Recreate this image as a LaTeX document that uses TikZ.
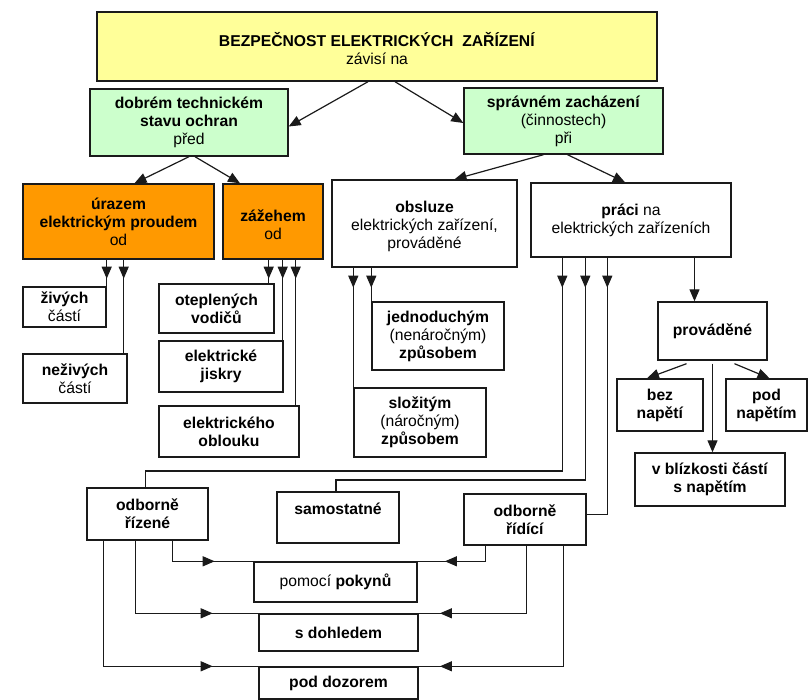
\documentclass[tikz,border=0pt]{standalone}
\usepackage{fontspec}
\setmainfont{Liberation Sans}
\usetikzlibrary{arrows.meta,decorations.markings}

\definecolor{zluta}{HTML}{FFFF99}
\definecolor{zelena}{HTML}{CCFFCC}
\definecolor{oranzova}{HTML}{FF9900}
\definecolor{cara}{HTML}{1A1A1A}

\begin{document}
\begin{tikzpicture}[x=1pt, y=-1pt, >={Triangle[length=12pt,width=10pt]},
  box/.style={draw=cara, line width=1.4pt, align=center, inner sep=2pt,
              font=\fontsize{15.7}{18}\selectfont},
  vazba/.style={draw=cara, line width=1.2pt},
  tipat/.style={postaction={decorate}, decoration={markings,
              mark=at position #1 with {\arrow{>}}}}]

  \useasboundingbox (0,0) rectangle (808,700);

  % Hlavní blok a dvě větve.
  \node[box, fill=zluta, minimum width=560, minimum height=69] (bezp) at (377,46.5)
       {\mbox{}\\\textbf{BEZPEČNOST ELEKTRICKÝCH\ \ ZAŘÍZENÍ}\\závisí na};
  \node[box, fill=zelena, minimum width=198, minimum height=67] (stav) at (189,122.5)
       {\textbf{dobrém technickém}\\\textbf{stavu ochran}\\před};
  \node[box, fill=zelena, minimum width=199, minimum height=66] (zach) at (563.5,121)
       {\textbf{správném zacházení}\\(činnostech)\\při};

  % Levá větev: úraz a zážeh.
  \node[box, fill=oranzova, minimum width=191, minimum height=75] (uraz) at (118.5,221.5)
       {\textbf{úrazem}\\\textbf{elektrickým proudem}\\od};
  \node[box, fill=oranzova, minimum width=100, minimum height=75] (zazeh) at (273,221.5)
       {\mbox{}\\\textbf{zážehem}\\od};
  \node[box, minimum width=83, minimum height=40] (ziv) at (64.5,307)
       {\textbf{živých}\\částí};
  \node[box, minimum width=104, minimum height=49] (neziv) at (75,378.5)
       {\textbf{neživých}\\částí};
  \node[box, minimum width=115, minimum height=49] (otepl) at (216.5,308.5)
       {\textbf{oteplených}\\\textbf{vodičů}};
  \node[box, minimum width=124, minimum height=51] (jiskr) at (221,366.5)
       {\textbf{elektrické}\\\textbf{jiskry}};
  \node[box, minimum width=140, minimum height=51] (obl) at (229,431.5)
       {\textbf{elektrického}\\\textbf{oblouku}};

  % Pravá větev: obsluha a práce.
  \node[box, minimum width=185, minimum height=87] (obsl) at (424.5,223.5)
       {\mbox{}\\\textbf{obsluze}\\elektrických zařízení,\\prováděné};
  \node[box, minimum width=200, minimum height=74] (prace) at (631,220)
       {\textbf{práci} na\\elektrických zařízeních};
  \node[box, minimum width=132, minimum height=68] (jedn) at (438,336)
       {\textbf{jednoduchým}\\(nenáročným)\\\textbf{způsobem}};
  \node[box, minimum width=132, minimum height=69] (slozit) at (420,422.5)
       {\textbf{složitým}\\(náročným)\\\textbf{způsobem}};
  \node[box, minimum width=109, minimum height=58] (prov) at (712.5,331)
       {\textbf{prováděné}};
  \node[box, minimum width=86, minimum height=52] (bez) at (660,405)
       {\textbf{bez}\\\textbf{napětí}};
  \node[box, minimum width=81, minimum height=52] (pod) at (766.5,405)
       {\textbf{pod}\\\textbf{napětím}};
  \node[box, minimum width=150, minimum height=53] (blizk) at (710,479.5)
       {\textbf{v blízkosti částí}\\\textbf{s napětím}};

  % Kdo práci vykonává a jak.
  \node[box, minimum width=121, minimum height=52] (rizene) at (147.5,514)
       {\textbf{odborně}\\\textbf{řízené}};
  \node[box, minimum width=122, minimum height=51] (samost) at (338,517.5)
       {\textbf{samostatné}\\\mbox{}};
  \node[box, minimum width=122, minimum height=51] (ridici) at (525,519.5)
       {\textbf{odborně}\\\textbf{řídící}};
  \node[box, minimum width=163, minimum height=40] (pokyn) at (335.5,582)
       {pomocí \textbf{pokynů}};
  \node[box, minimum width=159, minimum height=37] (dohled) at (338.5,632.5)
       {\textbf{s dohledem}};
  \node[box, minimum width=159, minimum height=32] (dozor) at (338.5,683)
       {\textbf{pod dozorem}};

  % Šipky shora dolů.
  \draw[vazba,->] ([xshift=-9pt]bezp.south) -- ([yshift=-4pt]stav.east);
  \draw[vazba,->] ([xshift=18pt]bezp.south) -- ([yshift=-2pt]zach.west);
  \draw[vazba,->] (stav.south) -- ([xshift=16pt]uraz.north);
  \draw[vazba,->] ([xshift=6pt]stav.south) -- ([xshift=-33pt]zazeh.north);
  \draw[vazba,->] ([xshift=-20pt]zach.south) -- ([xshift=30pt]obsl.north);
  \draw[vazba,->] ([xshift=4pt]zach.south) -- ([xshift=-6pt]prace.north);

  \draw[vazba, tipat=19pt] (uraz.south -| ziv.north east) -- (ziv.north east);
  \draw[vazba, tipat=19pt] ([xshift=-4pt]neziv.north east |- uraz.south) -- ([xshift=-4pt]neziv.north east);
  \draw[vazba, tipat=19pt] ([xshift=-6pt]otepl.north east |- zazeh.south) -- ([xshift=-6pt]otepl.north east);
  \draw[vazba, tipat=19pt] ([xshift=-1pt]jiskr.north east |- zazeh.south) -- ([xshift=-1pt]jiskr.north east);
  \draw[vazba, tipat=19pt] ([xshift=-4pt]obl.north east |- zazeh.south) -- ([xshift=-4pt]obl.north east);

  \draw[vazba, tipat=20pt] (slozit.north west |- obsl.south) -- (slozit.north west);
  \draw[vazba, tipat=20pt] (jedn.north west |- obsl.south) -- (jedn.north west);

  \coordinate (h1) at (0,471);
  \coordinate (h2) at (0,480);
  \draw[vazba, tipat=30pt] ([xshift=32pt]prace.south west) |- ([xshift=-2pt]h1 -| rizene.north) -- ([xshift=-2pt]rizene.north);
  \draw[vazba, tipat=30pt] ([xshift=55pt]prace.south west) |- ([xshift=-2pt]h2 -| samost.north) -- ([xshift=-2pt]samost.north);
  \draw[vazba, tipat=30pt] ([xshift=77pt]prace.south west) |- ([yshift=5pt]ridici.east);
  \draw[vazba,->] ([xshift=-18pt]prov.north |- prace.south) -- ([xshift=-18pt]prov.north);

  \draw[vazba,->] ([xshift=-26pt,yshift=-3pt]prov.south) -- ([xshift=-13pt]bez.north);
  \draw[vazba,->] ([xshift=22pt,yshift=-3pt]prov.south) -- ([xshift=3pt]pod.north);
  \draw[vazba,->] ([yshift=-3pt]prov.south) -- (prov.south |- blizk.north);

  % Spodní trojice.
  \draw[vazba, tipat=63pt] ([xshift=86pt]rizene.south west) |- (pokyn.north west);
  \draw[vazba, tipat=56pt] ([xshift=22pt]ridici.south west) |- (pokyn.north east);
  \draw[vazba, tipat=150pt] ([xshift=49pt]rizene.south west) |- (dohled.north west);
  \draw[vazba, tipat=154pt] ([xshift=63pt]ridici.south west) |- (dohled.north east);
  \draw[vazba, tipat=235pt] ([xshift=17pt]rizene.south west) |- (dozor.north west);
  \draw[vazba, tipat=244pt] ([xshift=100pt]ridici.south west) |- (dozor.north east);

\end{tikzpicture}
\end{document}
